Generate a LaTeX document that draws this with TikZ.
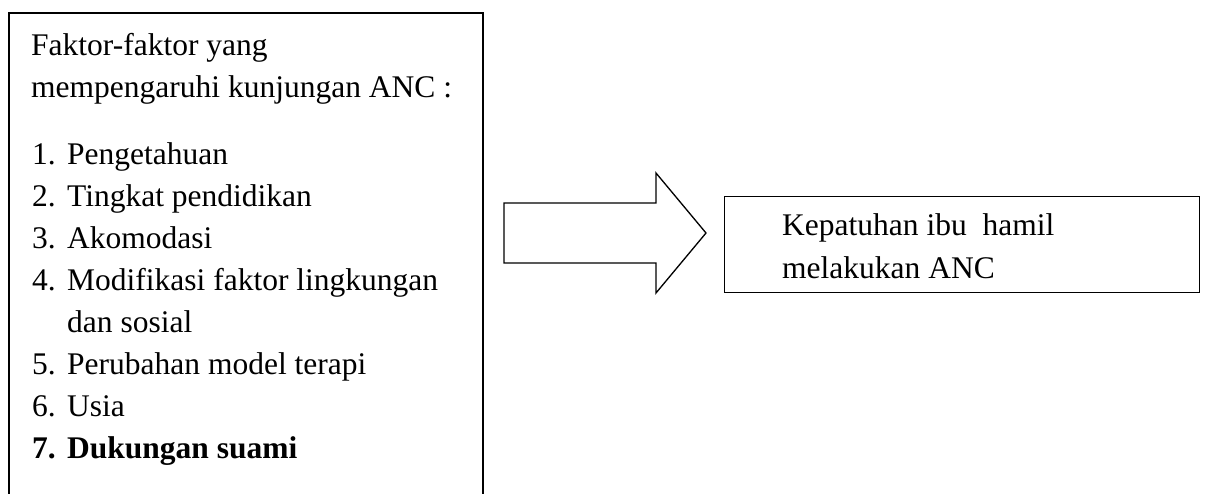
\documentclass[tikz,border=0pt]{standalone}
\usepackage{fontspec}
\setmainfont{Liberation Serif}
\tikzset{
  txt/.style={anchor=base west, inner sep=0pt, font=\fontsize{31.5}{42}\selectfont},
  boxline/.style={draw=black, line width=1.6pt},
  thinline/.style={draw=black, line width=1.3pt},
}
\begin{document}
\begin{tikzpicture}[x=1pt, y=-1pt]
\useasboundingbox (0,0) rectangle (1205,493);
\fill[white] (0,0) rectangle (1205,493);
\clip (0,0) rectangle (1205,493);
% left box
\coordinate (ltl) at (9,13);
\coordinate (lbr) at (483,520);
\draw[boxline] (ltl) rectangle (lbr);
\node[txt] (h1) at (31,55) {Faktor-faktor yang};
\node[txt] (h2) at (31,97) {mempengaruhi kunjungan ANC :};
\node[txt] (n1) at (32,164) {1.};
\node[txt] (t1) at (67,164) {Pengetahuan};
\node[txt] (n2) at (32,206) {2.};
\node[txt] (t2) at (67,206) {Tingkat pendidikan};
\node[txt] (n3) at (32,248) {3.};
\node[txt] (t3) at (67,248) {Akomodasi};
\node[txt] (n4) at (32,290) {4.};
\node[txt] (t4) at (67,290) {Modifikasi faktor lingkungan};
\node[txt] (t4b) at (67,332) {dan sosial};
\node[txt] (n5) at (32,374) {5.};
\node[txt] (t5) at (67,374) {Perubahan model terapi};
\node[txt] (n6) at (32,416) {6.};
\node[txt] (t6) at (67,416) {Usia};
\node[txt, font=\fontsize{31.5}{42}\selectfont\bfseries] (n7) at (32,458) {7.};
\node[txt, font=\fontsize{31.5}{42}\selectfont\bfseries] (t7) at (67,458) {Dukungan suami};
% block arrow
\coordinate (a1) at (504,203);
\coordinate (a2) at (656,203);
\coordinate (a3) at (656,173);
\coordinate (tip) at (706,233);
\coordinate (a5) at (656,293);
\coordinate (a6) at (656,263);
\coordinate (a7) at (504,263);
\draw[thinline, line join=miter] (a1) -- (a2) -- (a3) -- (tip) -- (a5) -- (a6) -- (a7) -- cycle;
% right box
\node[thinline, rectangle, minimum width=475pt, minimum height=96pt, inner sep=0pt, anchor=north west] (rbox) at (724,196) {};
\node[txt] (r1) at (782,235) {Kepatuhan ibu\ \ hamil};
\node[txt] (r2) at (782,278) {melakukan ANC};
\end{tikzpicture}
\end{document}
